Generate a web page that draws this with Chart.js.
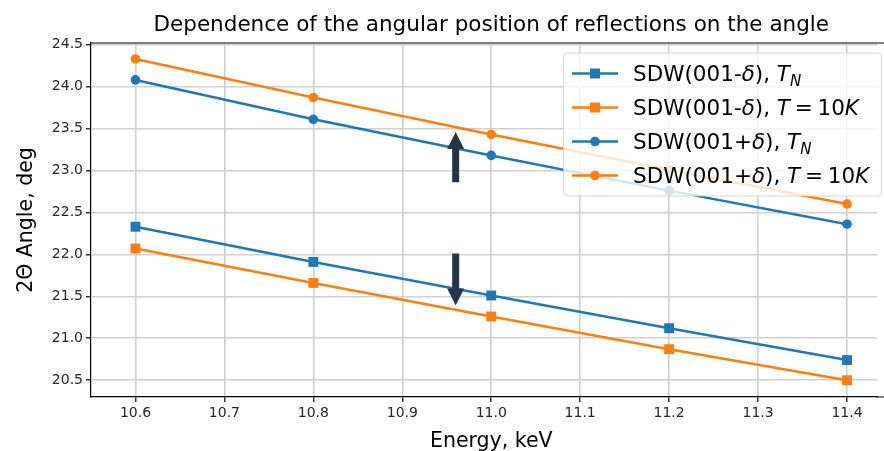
<!DOCTYPE html>
<html>
<head>
<meta charset="utf-8">
<script src="https://cdn.jsdelivr.net/npm/chart.js@4.4.1/dist/chart.umd.min.js"></script>
<style>
html,body{margin:0;padding:0;background:#fff;overflow:hidden}
</style>
</head>
<body>
<canvas id="grafico" width="884" height="451"></canvas>
<script>
// datos
const energias=[10.6,10.8,11.0,11.2,11.4]
const menosTN=[22.33,21.91,21.51,21.12,20.74]
const menos10K=[22.07,21.66,21.26,20.87,20.50]
const masTN=[24.08,23.61,23.18,22.76,22.36]
const mas10K=[24.33,23.87,23.43,23.01,22.60]
const etiquetas=['SDW(001-δ), T_N','SDW(001-δ), T=10K','SDW(001+δ), T_N','SDW(001+δ), T=10K']
const ticksX=[10.6,10.7,10.8,10.9,11.0,11.1,11.2,11.3,11.4]
const ticksY=[20.5,21.0,21.5,22.0,22.5,23.0,23.5,24.0,24.5]
const flechaX=10.96
const flechaArriba=[22.86,23.46]
const flechaAbajo=[22.01,21.39]

const titulo='Dependence of the angular position of reflections on the angle'
const tituloX='Energy, keV'
const tituloY='2Θ Angle, deg'

const series=[menosTN,menos10K,masTN,mas10K]
const colores=['#1f77b4','#ff7f0e','#1f77b4','#ff7f0e']
const marcas=['rect','rect','circle','circle']
const fuente='"DejaVu Sans"'

// separa la etiqueta en trozos normales, cursivos y subindices
function partes(txt){
    const [a,b]=txt.split(', ')
    const segs=[]
    a.split(/(δ)/).forEach(p=>{ if(p) segs.push({t:p,it:p==='δ'}) })
    segs.push({t:', '})
    let i=0
    while(i<b.length){
        const c=b[i]
        if(c==='_'){ segs.push({t:b[i+1],it:true,sub:true}); i+=2; continue }
        if(c==='='){ segs.push({t:'=',gap:0.22}); i++; continue }
        if(/[0-9]/.test(c)){
            let d=''
            while(i<b.length && /[0-9]/.test(b[i])) d+=b[i++]
            segs.push({t:d}); continue
        }
        segs.push({t:c,it:true}); i++
    }
    return segs
}

function escribe(ctx,segs,x,y,size){
    for(const s of segs){
        const fs=s.sub ? size*0.7 : size
        ctx.font=(s.it?'oblique ':'')+fs+'px '+fuente
        const g=(s.gap||0)*size
        x+=g
        ctx.fillText(s.t,x,y+(s.sub?size*0.22:0))
        x+=ctx.measureText(s.t).width+g
    }
}

function flecha(ctx,px,y0,y1){
    const dir=y1<y0?-1:1
    const largo=17, ancho=17, cuerpo=7
    const base=y1-dir*largo
    ctx.beginPath()
    ctx.moveTo(px-cuerpo/2,y0)
    ctx.lineTo(px-cuerpo/2,base)
    ctx.lineTo(px-ancho/2,base)
    ctx.lineTo(px,y1)
    ctx.lineTo(px+ancho/2,base)
    ctx.lineTo(px+cuerpo/2,base)
    ctx.lineTo(px+cuerpo/2,y0)
    ctx.closePath()
    ctx.fill()
}

const extras={
    id:'extras',
    afterDatasetsDraw(chart){
        const ctx=chart.ctx, sx=chart.scales.x, sy=chart.scales.y
        ctx.save()
        ctx.fillStyle='#233546'
        const px=sx.getPixelForValue(flechaX)
        flecha(ctx,px,sy.getPixelForValue(flechaArriba[0]),sy.getPixelForValue(flechaArriba[1]))
        flecha(ctx,px,sy.getPixelForValue(flechaAbajo[0]),sy.getPixelForValue(flechaAbajo[1]))
        ctx.restore()
    },
    afterDraw(chart){
        const ctx=chart.ctx, a=chart.chartArea, sx=chart.scales.x
        // centro del eje x completo (el borde derecho queda fuera de la imagen)
        const centro=sx.getPixelForValue(11.0)
        ctx.save()
        // borde de arriba y prolongacion del de abajo hasta el final del lienzo
        ctx.strokeStyle='#000'
        ctx.lineWidth=1.2
        ctx.beginPath()
        ctx.moveTo(a.left,a.top)
        ctx.lineTo(chart.width,a.top)
        ctx.moveTo(a.right-1,a.bottom)
        ctx.lineTo(chart.width,a.bottom)
        ctx.stroke()

        // titulos
        ctx.fillStyle='#000'
        ctx.textAlign='center'
        ctx.textBaseline='alphabetic'
        ctx.font='21.5px '+fuente
        ctx.fillText(titulo,centro,31)
        ctx.font='20.5px '+fuente
        ctx.fillText(tituloX,centro,446.5)
        ctx.save()
        ctx.translate(32,(a.top+a.bottom)/2)
        ctx.rotate(-Math.PI/2)
        ctx.fillText(tituloY,0,0)
        ctx.restore()

        // leyenda
        const bx=563.5, by=53, bw=318, bh=143, r=4
        ctx.beginPath()
        ctx.moveTo(bx+r,by)
        ctx.arcTo(bx+bw,by,bx+bw,by+bh,r)
        ctx.arcTo(bx+bw,by+bh,bx,by+bh,r)
        ctx.arcTo(bx,by+bh,bx,by,r)
        ctx.arcTo(bx,by,bx+bw,by,r)
        ctx.closePath()
        ctx.fillStyle='rgba(255,255,255,0.8)'
        ctx.fill()
        ctx.strokeStyle='rgba(204,204,204,0.8)'
        ctx.lineWidth=1
        ctx.stroke()

        ctx.textAlign='left'
        etiquetas.forEach((txt,k)=>{
            const y=73.5+k*34
            ctx.strokeStyle=colores[k]
            ctx.fillStyle=colores[k]
            ctx.lineWidth=2.5
            ctx.beginPath()
            ctx.moveTo(572,y)
            ctx.lineTo(618,y)
            ctx.stroke()
            if(marcas[k]==='rect'){
                ctx.fillRect(590,y-5,10,10)
            }else{
                ctx.beginPath()
                ctx.arc(595,y,4.8,0,Math.PI*2)
                ctx.fill()
            }
            ctx.fillStyle='#000'
            escribe(ctx,partes(txt),633,y+7.5,21.5)
        })
        ctx.restore()
    }
}

const lienzo=document.getElementById('grafico')

new Chart(lienzo,{
    type:'line',
    data:{
        datasets:series.map((s,k)=>({
            label:etiquetas[k],
            data:energias.map((e,i)=>({x:e,y:s[i]})),
            borderColor:colores[k],
            backgroundColor:colores[k],
            borderWidth:2.5,
            pointStyle:marcas[k],
            pointRadius:marcas[k]==='rect'?7:4.8,
            pointHoverRadius:marcas[k]==='rect'?7:4.8,
            pointBorderWidth:0,
            tension:0,
            order:4-k
        }))
    },
    options:{
        responsive:false,
        animation:false,
        devicePixelRatio:1,
        layout:{padding:{top:43,right:0,left:0,bottom:0}},
        plugins:{legend:{display:false},tooltip:{enabled:false},title:{display:false}},
        scales:{
            x:{
                // el eje se corta a la derecha como en la imagen
                type:'linear',min:10.55,max:11.4337,
                afterBuildTicks(s){ s.ticks=ticksX.map(v=>({value:v})) },
                afterFit(s){ s.height=54 },
                ticks:{callback:v=>v.toFixed(1),font:{family:'DejaVu Sans',size:14},color:'#262626',padding:3,maxRotation:0,autoSkip:false},
                grid:{color:'#d0d0d0',lineWidth:1.6,tickColor:'#000',tickLength:5,tickWidth:1.2},
                border:{color:'#000',width:1.2}
            },
            y:{
                type:'linear',min:20.30,max:24.52,
                afterBuildTicks(s){ s.ticks=ticksY.map(v=>({value:v})) },
                afterFit(s){ s.width=91 },
                ticks:{callback:v=>v.toFixed(1),font:{family:'DejaVu Sans',size:14},color:'#262626',padding:3,autoSkip:false},
                grid:{color:'#d0d0d0',lineWidth:1.6,tickColor:'#000',tickLength:5,tickWidth:1.2},
                border:{color:'#000',width:1.2}
            }
        }
    },
    plugins:[extras]
})
</script>
</body>
</html>
